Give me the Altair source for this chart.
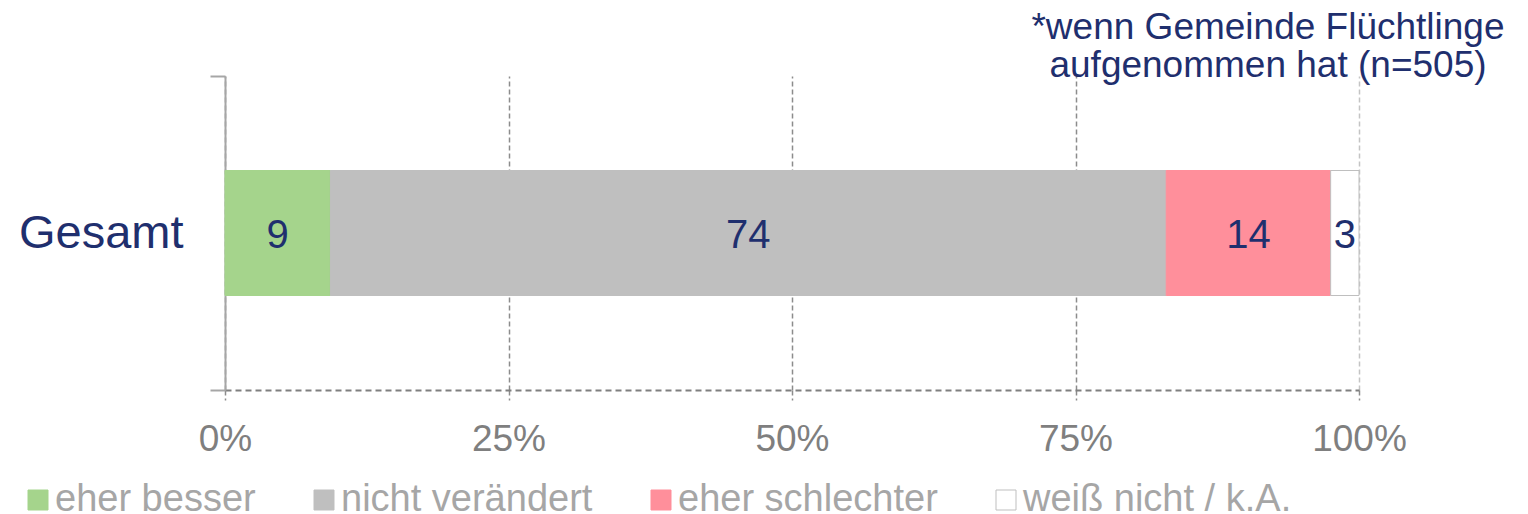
import altair as alt
import pandas as pd

group = ["Gesamt"]
categories = ["eher besser", "nicht verändert", "eher schlechter", "weiß nicht / k.A."]
values = [9.3, 73.7, 14.5, 2.5]
labels = ["9", "74", "14", "3"]
colors = ["#A5D48C", "#BFBFBF", "#FF8F9B", "#FFFFFF"]
strokes = ["#A5D48C", "#BFBFBF", "#FF8F9B", "#BFBFBF"]
x_ticks = [0, 25, 50, 75, 100]
title_lines = ["*wenn Gemeinde Flüchtlinge", "aufgenommen hat (n=505)"]

df = pd.DataFrame({
    "group": group * len(categories),
    "cat": categories,
    "value": values,
    "label": labels,
    "order": list(range(len(categories))),
})

FONT = "Liberation Sans"
NAVY = "#1F2F6E"

base = alt.Chart(df).transform_stack(
    stack="value", groupby=["group"], as_=["start", "end"],
    sort=[alt.SortField("order", order="ascending")]
).transform_calculate(mid="(datum.start + datum.end) / 2")

y_enc = alt.Y(
    "group:N", title=None,
    scale=alt.Scale(paddingInner=0, paddingOuter=0),
    axis=alt.Axis(
        labelFontSize=47, labelColor=NAVY, labelFont=FONT, labelPadding=27,
        tickBand="extent", tickSize=15, tickColor="#A6A6A6", tickWidth=2,
        domainColor="#A6A6A6", domainWidth=2, grid=False,
    ),
)

x_axis = alt.Axis(
    values=x_ticks, labelExpr="datum.value + '%'", title=None,
    labelFontSize=37, labelColor="#7F7F7F", labelFont=FONT, labelPadding=21,
    labelFlush=False,
    grid=True, gridDash=[5, 3],
    gridColor={"expr": "datum.value == 100 ? '#C4C4C4' : '#8C8C8C'"},
    gridWidth=1.5,
    tickDash=[5, 3], tickColor="#8C8C8C", tickSize=10, tickWidth=1.5,
    domainDash=[6, 4], domainColor="#7F7F7F", domainWidth=2,
)

bars = base.mark_bar(size=125, strokeWidth=1).encode(
    x=alt.X("start:Q", scale=alt.Scale(domain=[0, 100], nice=False), axis=x_axis),
    x2="end:Q",
    y=y_enc,
    color=alt.Color(
        "cat:N", sort=categories,
        scale=alt.Scale(domain=categories, range=colors),
        legend=alt.Legend(
            title=None, orient="none", legendX=-206, legendY=405,
            direction="horizontal", labelFontSize=38, labelColor="#A6A6A6",
            labelFont=FONT, labelLimit=0,
            symbolType="square",
            symbolSize=400, symbolStrokeWidth=1, columnPadding=49,
            labelOffset={"expr": "-2"}, padding=0,
        ),
    ),
    stroke=alt.Stroke(
        "cat:N", sort=categories,
        scale=alt.Scale(domain=categories, range=strokes),
        legend=None,
    ),
)

texts = base.mark_text(fontSize=40, color=NAVY, font=FONT, baseline="middle", dy=3).encode(
    x=alt.X("mid:Q"),
    y=alt.Y("group:N"),
    text="label:N",
)

chart = alt.layer(bars, texts).properties(
    width=1134, height=314,
    padding={"left": 217, "top": 68, "right": 161, "bottom": 124},
    autosize=alt.AutoSizeParams(type="none"),
    title=alt.TitleParams(
        text=title_lines, anchor="end", align="center", dx=-91, frame="group",
        fontSize=37, font=FONT, color=NAVY, fontWeight="normal",
        lineHeight=38, offset=-33,
    ),
).configure_view(stroke=None)

chart.save("out.html", embed_options={"renderer": "svg", "actions": False})
